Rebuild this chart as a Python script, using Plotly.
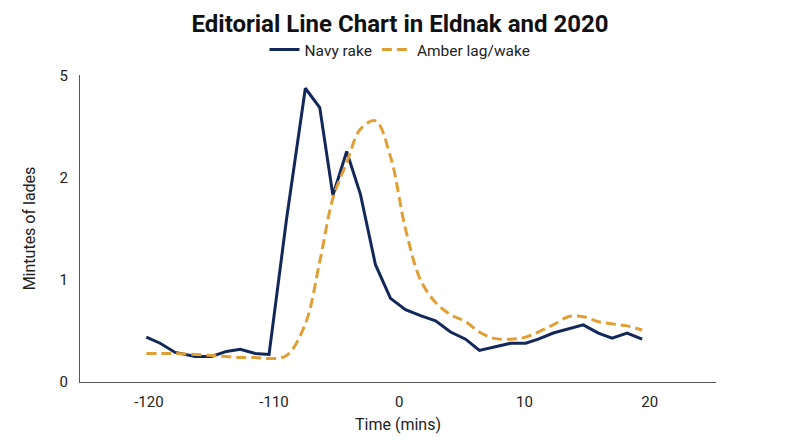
import plotly.graph_objects as go

# time positions (axis units) and values
time_pts = [-20.2, -19.1, -17.9, -16.3, -15.0, -13.8, -12.7, -11.5, -10.4, -9.0,
            -7.5, -6.35, -5.3, -4.2, -3.1, -1.9, -0.7, 0.5, 1.7, 2.9,
            4.1, 5.3, 6.4, 7.5, 8.9, 10.1, 11.1, 12.3, 13.5, 14.7,
            15.9, 17.0, 18.2, 19.4]

navy_rake = [0.44, 0.38, 0.29, 0.25, 0.25, 0.30, 0.32, 0.28, 0.27, 1.60,
             2.88, 2.69, 1.83, 2.26, 1.84, 1.15, 0.82, 0.71, 0.65, 0.60,
             0.49, 0.42, 0.31, 0.34, 0.38, 0.38, 0.42, 0.48, 0.52, 0.56,
             0.48, 0.43, 0.48, 0.42]

amber_lag = [0.28, 0.28, 0.28, 0.27, 0.26, 0.25, 0.24, 0.24, 0.23, 0.26,
             0.57, 1.18, 1.80, 2.15, 2.48, 2.56, 2.21, 1.50, 1.00, 0.78,
             0.66, 0.59, 0.49, 0.43, 0.42, 0.44, 0.49, 0.56, 0.64, 0.64,
             0.59, 0.57, 0.55, 0.51]

x_tickvals = [-20, -10, 0, 10, 20]
x_ticktext = ["-120", "-110", "0", "10", "20"]
y_tickvals = [0, 1, 2, 3]
y_ticktext = ["0", "1", "2", "5"]

NAVY = "#13285a"
AMBER = "#e09f34"
FONT = "Roboto, Arial, sans-serif"

fig = go.Figure()
fig.add_trace(go.Scatter(
    x=time_pts, y=navy_rake, mode="lines", name="Navy rake",
    line=dict(color=NAVY, width=3),
))
fig.add_trace(go.Scatter(
    x=time_pts, y=amber_lag, mode="lines", name="Amber lag/wake",
    line=dict(color=AMBER, width=3, dash="10px,5px", shape="spline", smoothing=1),
))

# the page body adds an 8px offset, so margins are trimmed to suit
fig.update_layout(
    width=800, height=447,
    margin=dict(l=72, r=92, t=67, b=73, autoexpand=False),
    paper_bgcolor="white", plot_bgcolor="white",
    font=dict(family=FONT, size=15, color="#222"),
    title=dict(text="<b>Editorial Line Chart in Eldnak and 2020</b>",
               x=0.49, xanchor="center", y=0.964, yanchor="middle",
               font=dict(family=FONT, size=24, color="#111")),
    legend=dict(orientation="h", xref="container", x=0.49, xanchor="center",
                yref="container", y=0.906, yanchor="middle",
                font=dict(size=15.5), itemwidth=30, bgcolor="rgba(0,0,0,0)"),
    showlegend=True,
)
fig.update_xaxes(
    range=[-25.5, 25.3], tickvals=x_tickvals, ticktext=x_ticktext,
    showgrid=False, zeroline=False, showline=True, linecolor="#555", linewidth=1,
    ticks="", ticklabelstandoff=6, automargin=False,
    title=dict(text="Time (mins)", standoff=8, font=dict(size=16)),
)
fig.update_yaxes(
    range=[0, 3.01], tickvals=y_tickvals, ticktext=y_ticktext,
    showgrid=False, zeroline=False, showline=True, linecolor="#555", linewidth=1,
    ticks="", ticklabelstandoff=8, automargin=False,
    title=dict(text="Mintutes of lades", standoff=19, font=dict(size=16)),
)

fig.write_html("out.html")
